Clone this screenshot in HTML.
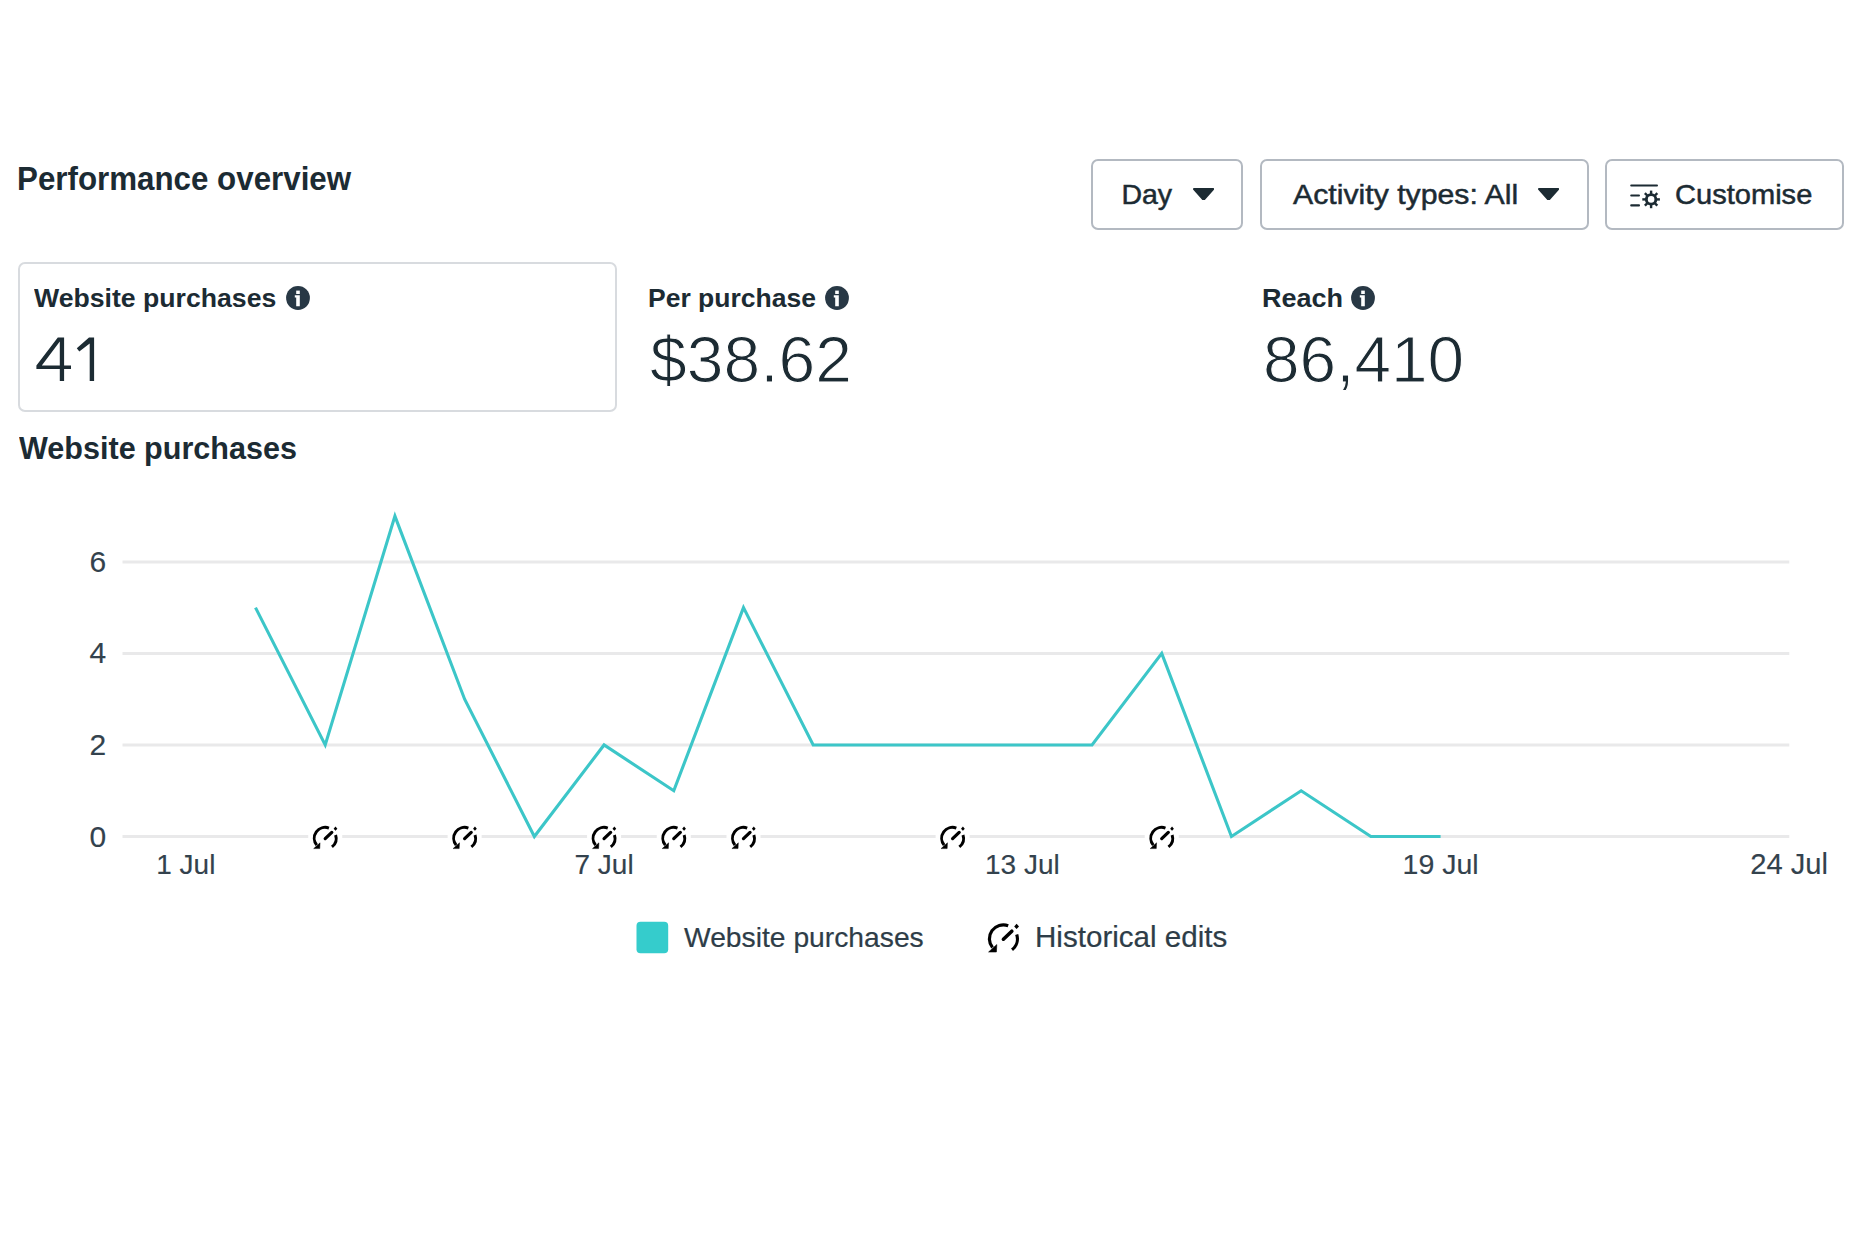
<!DOCTYPE html>
<html><head><meta charset="utf-8"><title>Performance overview</title>
<style>
html,body{margin:0;padding:0;background:#fff;}
body{width:1875px;height:1250px;position:relative;overflow:hidden;font-family:"Liberation Sans",sans-serif;}
.t{position:absolute;white-space:nowrap;transform-origin:0 50%;}
.ic{position:absolute;display:block;}
.btn{position:absolute;box-sizing:border-box;border:2px solid #b3b9c1;border-radius:7px;background:#fff;}
.med{-webkit-text-stroke:0.5px #1c2b33;}
.lg{-webkit-text-stroke:0.2px #2e3d48;}
.big{-webkit-text-stroke:1.1px #fff;paint-order:normal;}
.card{position:absolute;box-sizing:border-box;border:2px solid #d8dbdf;border-radius:7px;background:#fff;}
#chart text{font-family:"Liberation Sans",sans-serif;}
</style></head><body>
<div class="btn" style="left:1090.7px;top:158.5px;width:152.5px;height:71.5px"></div>
<div class="btn" style="left:1259.6px;top:158.5px;width:329.10000000000014px;height:71.5px"></div>
<div class="btn" style="left:1604.7px;top:158.5px;width:239.5999999999999px;height:71.5px"></div>
<div class="card" style="left:17.8px;top:262.2px;width:599px;height:150.3px"></div>
<svg id="chart" width="1875" height="1250" viewBox="0 0 1875 1250" style="position:absolute;left:0;top:0"><line x1="122.5" x2="1789.3" y1="836.50" y2="836.50" stroke="#e9e9ea" stroke-width="3"/><line x1="122.5" x2="1789.3" y1="744.96" y2="744.96" stroke="#e9e9ea" stroke-width="3"/><line x1="122.5" x2="1789.3" y1="653.42" y2="653.42" stroke="#e9e9ea" stroke-width="3"/><line x1="122.5" x2="1789.3" y1="561.88" y2="561.88" stroke="#e9e9ea" stroke-width="3"/><polyline points="255.51,607.65 325.22,744.96 394.93,516.11 464.64,699.19 534.35,836.50 604.06,744.96 673.77,790.73 743.48,607.65 813.19,744.96 882.90,744.96 952.61,744.96 1022.32,744.96 1092.03,744.96 1161.74,653.42 1231.45,836.50 1301.16,790.73 1370.87,836.50 1440.58,836.50" fill="none" stroke="#3cc6c8" stroke-width="3.1" stroke-linejoin="miter"/><rect x="308.22" y="822" width="34" height="30" fill="#fff"/><g transform="translate(325.22,838.30) scale(0.78)"><path d="M4.79,-13.16 A14,14 0 0 0 -10.88,8.81" fill="none" stroke="#000" stroke-width="3.8"/><path d="M-6.6,5.8 L-7.0,13.2 L-14.8,13.2 Z" fill="#000" stroke="#000" stroke-width="0.6" stroke-linejoin="round"/><path d="M13.31,-4.33 A14,14 0 0 1 8.62,11.03" fill="none" stroke="#000" stroke-width="3.8"/><path d="M0,0.4 L8.4,-7.6" stroke="#000" stroke-width="4.2" stroke-linecap="round"/><path d="M13.2,-15 L15.6,-12.4 L13.2,-9.8 L10.8,-12.4 Z" fill="#000"/></g><rect x="447.64" y="822" width="34" height="30" fill="#fff"/><g transform="translate(464.64,838.30) scale(0.78)"><path d="M4.79,-13.16 A14,14 0 0 0 -10.88,8.81" fill="none" stroke="#000" stroke-width="3.8"/><path d="M-6.6,5.8 L-7.0,13.2 L-14.8,13.2 Z" fill="#000" stroke="#000" stroke-width="0.6" stroke-linejoin="round"/><path d="M13.31,-4.33 A14,14 0 0 1 8.62,11.03" fill="none" stroke="#000" stroke-width="3.8"/><path d="M0,0.4 L8.4,-7.6" stroke="#000" stroke-width="4.2" stroke-linecap="round"/><path d="M13.2,-15 L15.6,-12.4 L13.2,-9.8 L10.8,-12.4 Z" fill="#000"/></g><rect x="587.06" y="822" width="34" height="30" fill="#fff"/><g transform="translate(604.06,838.30) scale(0.78)"><path d="M4.79,-13.16 A14,14 0 0 0 -10.88,8.81" fill="none" stroke="#000" stroke-width="3.8"/><path d="M-6.6,5.8 L-7.0,13.2 L-14.8,13.2 Z" fill="#000" stroke="#000" stroke-width="0.6" stroke-linejoin="round"/><path d="M13.31,-4.33 A14,14 0 0 1 8.62,11.03" fill="none" stroke="#000" stroke-width="3.8"/><path d="M0,0.4 L8.4,-7.6" stroke="#000" stroke-width="4.2" stroke-linecap="round"/><path d="M13.2,-15 L15.6,-12.4 L13.2,-9.8 L10.8,-12.4 Z" fill="#000"/></g><rect x="656.77" y="822" width="34" height="30" fill="#fff"/><g transform="translate(673.77,838.30) scale(0.78)"><path d="M4.79,-13.16 A14,14 0 0 0 -10.88,8.81" fill="none" stroke="#000" stroke-width="3.8"/><path d="M-6.6,5.8 L-7.0,13.2 L-14.8,13.2 Z" fill="#000" stroke="#000" stroke-width="0.6" stroke-linejoin="round"/><path d="M13.31,-4.33 A14,14 0 0 1 8.62,11.03" fill="none" stroke="#000" stroke-width="3.8"/><path d="M0,0.4 L8.4,-7.6" stroke="#000" stroke-width="4.2" stroke-linecap="round"/><path d="M13.2,-15 L15.6,-12.4 L13.2,-9.8 L10.8,-12.4 Z" fill="#000"/></g><rect x="726.48" y="822" width="34" height="30" fill="#fff"/><g transform="translate(743.48,838.30) scale(0.78)"><path d="M4.79,-13.16 A14,14 0 0 0 -10.88,8.81" fill="none" stroke="#000" stroke-width="3.8"/><path d="M-6.6,5.8 L-7.0,13.2 L-14.8,13.2 Z" fill="#000" stroke="#000" stroke-width="0.6" stroke-linejoin="round"/><path d="M13.31,-4.33 A14,14 0 0 1 8.62,11.03" fill="none" stroke="#000" stroke-width="3.8"/><path d="M0,0.4 L8.4,-7.6" stroke="#000" stroke-width="4.2" stroke-linecap="round"/><path d="M13.2,-15 L15.6,-12.4 L13.2,-9.8 L10.8,-12.4 Z" fill="#000"/></g><rect x="935.61" y="822" width="34" height="30" fill="#fff"/><g transform="translate(952.61,838.30) scale(0.78)"><path d="M4.79,-13.16 A14,14 0 0 0 -10.88,8.81" fill="none" stroke="#000" stroke-width="3.8"/><path d="M-6.6,5.8 L-7.0,13.2 L-14.8,13.2 Z" fill="#000" stroke="#000" stroke-width="0.6" stroke-linejoin="round"/><path d="M13.31,-4.33 A14,14 0 0 1 8.62,11.03" fill="none" stroke="#000" stroke-width="3.8"/><path d="M0,0.4 L8.4,-7.6" stroke="#000" stroke-width="4.2" stroke-linecap="round"/><path d="M13.2,-15 L15.6,-12.4 L13.2,-9.8 L10.8,-12.4 Z" fill="#000"/></g><rect x="1144.74" y="822" width="34" height="30" fill="#fff"/><g transform="translate(1161.74,838.30) scale(0.78)"><path d="M4.79,-13.16 A14,14 0 0 0 -10.88,8.81" fill="none" stroke="#000" stroke-width="3.8"/><path d="M-6.6,5.8 L-7.0,13.2 L-14.8,13.2 Z" fill="#000" stroke="#000" stroke-width="0.6" stroke-linejoin="round"/><path d="M13.31,-4.33 A14,14 0 0 1 8.62,11.03" fill="none" stroke="#000" stroke-width="3.8"/><path d="M0,0.4 L8.4,-7.6" stroke="#000" stroke-width="4.2" stroke-linecap="round"/><path d="M13.2,-15 L15.6,-12.4 L13.2,-9.8 L10.8,-12.4 Z" fill="#000"/></g><text x="106.2" y="846.50" text-anchor="end" font-size="30" fill="#33424d" stroke="#33424d" stroke-width="0.15">0</text><text x="106.2" y="754.96" text-anchor="end" font-size="30" fill="#33424d" stroke="#33424d" stroke-width="0.15">2</text><text x="106.2" y="663.42" text-anchor="end" font-size="30" fill="#33424d" stroke="#33424d" stroke-width="0.15">4</text><text x="106.2" y="571.88" text-anchor="end" font-size="30" fill="#33424d" stroke="#33424d" stroke-width="0.15">6</text><text x="185.80" y="873.7" text-anchor="middle" font-size="28" fill="#33424d" stroke="#33424d" stroke-width="0.15">1 Jul</text><text x="604.06" y="873.7" text-anchor="middle" font-size="28" fill="#33424d" stroke="#33424d" stroke-width="0.15">7 Jul</text><text x="1022.32" y="873.7" text-anchor="middle" font-size="28" fill="#33424d" stroke="#33424d" stroke-width="0.15">13 Jul</text><text x="1440.58" y="873.7" text-anchor="middle" font-size="28.5" fill="#33424d" stroke="#33424d" stroke-width="0.15">19 Jul</text><text x="1789.13" y="873.7" text-anchor="middle" font-size="29.2" fill="#33424d" stroke="#33424d" stroke-width="0.15">24 Jul</text><rect x="636.5" y="921.7" width="31.7" height="31.5" rx="4" fill="#35cccc"/><g transform="translate(1003.40,938.80) scale(1.0)"><path d="M4.79,-13.16 A14,14 0 0 0 -10.88,8.81" fill="none" stroke="#000" stroke-width="3.2"/><path d="M-6.6,5.8 L-7.0,13.2 L-14.8,13.2 Z" fill="#000" stroke="#000" stroke-width="0.6" stroke-linejoin="round"/><path d="M13.31,-4.33 A14,14 0 0 1 8.62,11.03" fill="none" stroke="#000" stroke-width="3.2"/><path d="M0,0.4 L8.4,-7.6" stroke="#000" stroke-width="3.6" stroke-linecap="round"/><path d="M13.2,-15 L15.6,-12.4 L13.2,-9.8 L10.8,-12.4 Z" fill="#000"/></g></svg>
<div id="h1" class="t" style="left:17.30px;top:162.70px;font-size:32.6px;line-height:32.6px;font-weight:700;color:#1c2b33;transform:scaleX(0.961);">Performance overview</div><div id="day" class="t med" style="left:1121.40px;top:180.17px;font-size:28.5px;line-height:28.5px;font-weight:400;color:#1c2b33;">Day</div><div id="act" class="t med" style="left:1292.50px;top:180.17px;font-size:28.5px;line-height:28.5px;font-weight:400;color:#1c2b33;transform:scaleX(1.061);">Activity types: All</div><div id="cus" class="t med" style="left:1675.40px;top:180.07px;font-size:28.5px;line-height:28.5px;font-weight:400;color:#1c2b33;transform:scaleX(1.02);">Customise</div><div id="l1" class="t" style="left:34.20px;top:285.17px;font-size:26.5px;line-height:26.5px;font-weight:700;color:#1c2b33;transform:scaleX(1.005);">Website purchases</div><div id="l2" class="t" style="left:648.00px;top:284.77px;font-size:26.5px;line-height:26.5px;font-weight:700;color:#1c2b33;">Per purchase</div><div id="v2" class="t big" style="left:650.20px;top:326.98px;font-size:65px;line-height:65px;font-weight:400;color:#1c2b33;transform:scaleX(1.016);">$38.62</div><div id="l3" class="t" style="left:1261.60px;top:284.77px;font-size:26.5px;line-height:26.5px;font-weight:700;color:#1c2b33;transform:scaleX(1.02);">Reach</div><div id="v3" class="t big" style="left:1263.00px;top:326.98px;font-size:65px;line-height:65px;font-weight:400;color:#1c2b33;transform:scaleX(1.012);">86,410</div><div id="h2" class="t" style="left:18.50px;top:433.09px;font-size:31.2px;line-height:31.2px;font-weight:700;color:#1c2b33;transform:scaleX(0.98);">Website purchases</div><div id="lg1" class="t lg" style="left:684.00px;top:923.60px;font-size:28.0px;line-height:28.0px;font-weight:400;color:#2e3d48;transform:scaleX(1.009);">Website purchases</div><div id="lg2" class="t lg" style="left:1034.80px;top:922.85px;font-size:29.0px;line-height:29.0px;font-weight:400;color:#2e3d48;transform:scaleX(1.02);">Historical edits</div>
<svg class="ic" style="left:285.60px;top:285.90px" width="24" height="24" viewBox="0 0 24 24"><circle cx="12" cy="12" r="11.9" fill="#283845"/><rect x="10.2" y="4.6" width="3.6" height="3.4" fill="#fff"/><path d="M8.8,9.2 H13.8 V20.2 H10.2 V11.6 H8.8 Z" fill="#fff"/></svg>
<svg class="ic" style="left:825.20px;top:286.00px" width="24" height="24" viewBox="0 0 24 24"><circle cx="12" cy="12" r="11.9" fill="#283845"/><rect x="10.2" y="4.6" width="3.6" height="3.4" fill="#fff"/><path d="M8.8,9.2 H13.8 V20.2 H10.2 V11.6 H8.8 Z" fill="#fff"/></svg>
<svg class="ic" style="left:1350.70px;top:286.00px" width="24" height="24" viewBox="0 0 24 24"><circle cx="12" cy="12" r="11.9" fill="#283845"/><rect x="10.2" y="4.6" width="3.6" height="3.4" fill="#fff"/><path d="M8.8,9.2 H13.8 V20.2 H10.2 V11.6 H8.8 Z" fill="#fff"/></svg>
<svg class="ic" style="left:1193.2px;top:188.0px" width="21.2" height="12.4" viewBox="0 0 21.2 12.4"><path d="M1,1 L20.2,1 L10.6,11.9 Z" fill="#1c2b33" stroke="#1c2b33" stroke-width="2" stroke-linejoin="round"/></svg>
<svg class="ic" style="left:1538.2px;top:188.0px" width="21.2" height="12.4" viewBox="0 0 21.2 12.4"><path d="M1,1 L20.2,1 L10.6,11.9 Z" fill="#1c2b33" stroke="#1c2b33" stroke-width="2" stroke-linejoin="round"/></svg>
<svg class="ic" style="left:1628px;top:181px" width="34" height="30" viewBox="0 0 34 30"><rect x="2.2" y="3.4" width="27.8" height="2.2" rx="1" fill="#1c2b33"/><rect x="2.2" y="13.4" width="9.8" height="2.2" rx="1" fill="#1c2b33"/><rect x="2.2" y="23.2" width="9.8" height="2.2" rx="1" fill="#1c2b33"/><g transform="translate(23.1,18.4)"><circle r="6.2" fill="#1c2b33"/><rect x="-1.2" y="-8.8" width="2.4" height="4" fill="#1c2b33" transform="rotate(0)"/><rect x="-1.2" y="-8.8" width="2.4" height="4" fill="#1c2b33" transform="rotate(45)"/><rect x="-1.2" y="-8.8" width="2.4" height="4" fill="#1c2b33" transform="rotate(90)"/><rect x="-1.2" y="-8.8" width="2.4" height="4" fill="#1c2b33" transform="rotate(135)"/><rect x="-1.2" y="-8.8" width="2.4" height="4" fill="#1c2b33" transform="rotate(180)"/><rect x="-1.2" y="-8.8" width="2.4" height="4" fill="#1c2b33" transform="rotate(225)"/><rect x="-1.2" y="-8.8" width="2.4" height="4" fill="#1c2b33" transform="rotate(270)"/><rect x="-1.2" y="-8.8" width="2.4" height="4" fill="#1c2b33" transform="rotate(315)"/><circle r="3.3" fill="#fff"/></g></svg>
<svg class="ic" style="left:0;top:0" width="120" height="400" viewBox="0 0 120 400"><path fill-rule="evenodd" fill="#1c2b33" d="M57.8,337.5 L64.1,337.5 L64.1,365.5 L71.0,365.5 L71.0,368.9 L64.1,368.9 L64.1,380.9 L59.8,380.9 L59.8,368.9 L36.4,368.9 L36.4,365.6 Z M59.8,341.6 L59.8,365.5 L41.8,365.5 Z"/><path fill="#1c2b33" d="M89.0,337.5 L94.1,337.5 L94.1,380.9 L89.7,380.9 L89.7,343.4 L79.3,351.4 L76.8,348.2 Z"/></svg>
</body></html>
